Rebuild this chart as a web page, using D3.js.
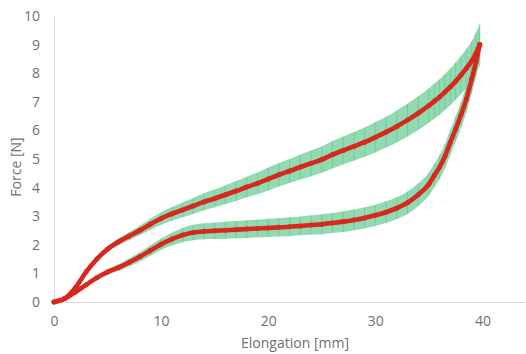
<!DOCTYPE html>
<html>
<head>
<meta charset="utf-8">
<script src="https://cdn.jsdelivr.net/npm/d3@7"></script>
<style>
  html, body { margin: 0; padding: 0; background: #fff; }
  svg { display: block; }
  .tick-label { font-family: 'Open Sans', sans-serif; font-size: 14px; fill: #6f6f6f; }
  .axis-title { font-family: 'Open Sans', sans-serif; font-size: 14px; fill: #6f6f6f; }
</style>
</head>
<body>
<div id="chart"></div>
<script>
// Elongation [mm] sampled along both branches
const elongation = [0, 1, 2, 3, 4, 5, 6, 7, 8, 9, 10, 11, 12, 13, 14, 15, 16, 17, 18, 19, 20,
  21, 22, 23, 24, 25, 26, 27, 28, 29, 30, 31, 32, 33, 34, 35, 35.5, 36, 36.5, 37, 37.5, 38,
  38.5, 39, 39.4, 39.75];

// Loading branch (upper curve), mean force [N] and spread
const loadingForce = [0, 0.12, 0.5, 1.05, 1.5, 1.85, 2.1, 2.3, 2.5, 2.72, 2.92, 3.08, 3.22,
  3.36, 3.5, 3.62, 3.75, 3.88, 4.02, 4.15, 4.3, 4.45, 4.58, 4.72, 4.85, 4.98, 5.15, 5.3, 5.44,
  5.59, 5.76, 5.94, 6.14, 6.36, 6.6, 6.87, 7.02, 7.17, 7.34, 7.52, 7.72, 7.94, 8.17, 8.43, 8.7, 9.0];
const loadingSd = [0, 0.02, 0.04, 0.06, 0.08, 0.1, 0.12, 0.14, 0.17, 0.19, 0.22, 0.24, 0.26,
  0.28, 0.3, 0.31, 0.33, 0.35, 0.36, 0.38, 0.4, 0.41, 0.42, 0.44, 0.45, 0.46, 0.48, 0.49, 0.5,
  0.51, 0.53, 0.54, 0.56, 0.57, 0.59, 0.6, 0.61, 0.62, 0.63, 0.64, 0.65, 0.67, 0.68, 0.7, 0.72, 0.74];

// Unloading branch (lower curve), mean force [N] and spread
const unloadingForce = [0, 0.12, 0.35, 0.6, 0.85, 1.05, 1.2, 1.38, 1.58, 1.8, 2.02, 2.2, 2.34,
  2.43, 2.47, 2.49, 2.51, 2.53, 2.55, 2.57, 2.59, 2.61, 2.63, 2.66, 2.69, 2.72, 2.76, 2.81,
  2.87, 2.94, 3.03, 3.14, 3.28, 3.47, 3.75, 4.12, 4.42, 4.72, 5.1, 5.58, 6.05, 6.55, 7.1, 7.8,
  8.4, 9.0];
const unloadingSd = [0, 0.02, 0.04, 0.06, 0.08, 0.1, 0.12, 0.14, 0.16, 0.18, 0.2, 0.22, 0.25,
  0.27, 0.28, 0.29, 0.3, 0.3, 0.31, 0.31, 0.32, 0.32, 0.33, 0.33, 0.34, 0.35, 0.35, 0.36, 0.36,
  0.37, 0.37, 0.38, 0.38, 0.39, 0.4, 0.4, 0.41, 0.42, 0.43, 0.44, 0.45, 0.46, 0.48, 0.5, 0.52, 0.55];

const xTicks = [0, 10, 20, 30, 40];
const yTicks = [0, 1, 2, 3, 4, 5, 6, 7, 8, 9, 10];

const width = 526;
const height = 354;

const svg = d3.select('#chart').append('svg')
  .attr('width', width)
  .attr('height', height);

const xScale = d3.scaleLinear().domain([0, 45]).range([54, 536]);
const yScale = d3.scaleLinear().domain([0, 10]).range([302, 16]);

// Axis lines (no tick marks, light grey)
svg.append('g')
  .attr('transform', 'translate(0,' + yScale(0) + ')')
  .call(d3.axisBottom(xScale).tickValues(xTicks).tickSize(0).tickPadding(14))
  .call(g => g.select('.domain').attr('stroke', '#d9d9d9'))
  .call(g => g.selectAll('text').attr('class', 'tick-label').attr('fill', null));

svg.append('g')
  .attr('transform', 'translate(' + xScale(0) + ',0)')
  .call(d3.axisLeft(yScale).tickValues(yTicks).tickSize(0).tickPadding(14))
  .call(g => g.select('.domain').attr('stroke', '#d9d9d9'))
  .call(g => g.selectAll('text').attr('class', 'tick-label').attr('fill', null));

// Axis titles
svg.append('text')
  .attr('class', 'axis-title')
  .attr('x', 295)
  .attr('y', 348)
  .attr('text-anchor', 'middle')
  .text('Elongation [mm]');

svg.append('text')
  .attr('class', 'axis-title')
  .attr('transform', 'translate(21,167) rotate(-90)')
  .attr('text-anchor', 'middle')
  .text('Force [N]');

const branches = [
  { force: loadingForce, sd: loadingSd },
  { force: unloadingForce, sd: unloadingSd }
].map(b => elongation.map((x, i) => ({ x: x, y: b.force[i], sd: b.sd[i] })));

const area = d3.area()
  .curve(d3.curveMonotoneX)
  .x(d => xScale(d.x))
  .y0(d => yScale(d.y - d.sd))
  .y1(d => yScale(d.y + d.sd));

const line = d3.line()
  .curve(d3.curveMonotoneX)
  .x(d => xScale(d.x))
  .y(d => yScale(d.y));

// Spread band built from the error bars
branches.forEach(pts => {
  svg.append('path')
    .datum(pts)
    .attr('d', area)
    .style('fill', '#86d6aa')
    .style('opacity', 0.9);

  svg.append('g')
    .selectAll('line')
    .data(pts)
    .enter()
      .append('line')
      .attr('x1', d => xScale(d.x))
      .attr('x2', d => xScale(d.x))
      .attr('y1', d => yScale(d.y - d.sd))
      .attr('y2', d => yScale(d.y + d.sd))
      .style('stroke', '#3fa86e')
      .style('stroke-width', 1)
      .style('opacity', 0.3);
});

// Mean curves: markers under a thick red line
branches.forEach(pts => {
  svg.append('g')
    .selectAll('circle')
    .data(pts)
    .enter()
      .append('circle')
      .attr('cx', d => xScale(d.x))
      .attr('cy', d => yScale(d.y))
      .attr('r', 2.5)
      .style('fill', '#8c4a2c');

  svg.append('path')
    .datum(pts)
    .attr('d', line)
    .style('fill', 'none')
    .style('stroke', '#d8281d')
    .style('stroke-width', 4.6)
    .style('stroke-linecap', 'round');
});
</script>
</body>
</html>
